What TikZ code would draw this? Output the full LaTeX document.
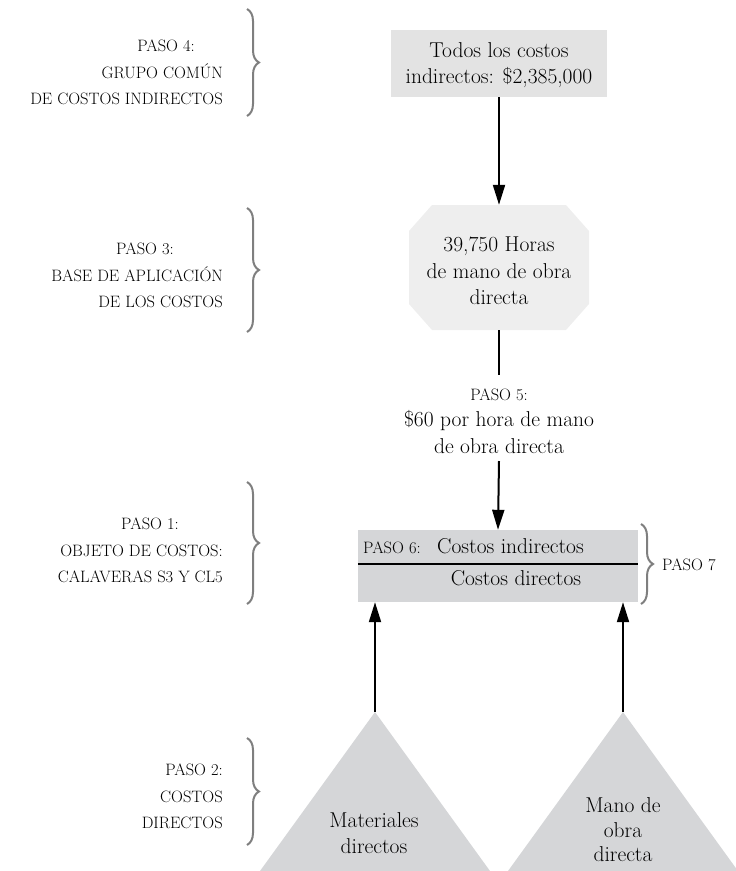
\documentclass[tikz,border=0pt]{standalone}
\usetikzlibrary{arrows.meta,decorations.pathreplacing}
\definecolor{boxA}{HTML}{E3E3E3}
\definecolor{octC}{HTML}{EEEEEE}
\definecolor{boxB}{HTML}{D5D6D8}
\definecolor{braceC}{HTML}{7F7F7F}
\newcommand\mainsz{\fontsize{21.5}{26.5}\selectfont}
\newcommand\trisz{\fontsize{21.5}{24.5}\selectfont}
\newcommand\capsz{\fontsize{16.5}{26.5}\selectfont}
\begin{document}
\begin{tikzpicture}[x=1pt,y=-1pt,
  txt/.style={inner sep=0pt, font=\mainsz, align=center},
  lbl/.style={inner sep=0pt, font=\capsz, align=center},
  arr/.style={line width=2pt, -{Triangle[length=20pt,width=12pt]}},
  plainline/.style={line width=2pt},
  brc/.style={decorate, decoration={brace, amplitude=12pt}, line width=2pt, draw=braceC},
]
\useasboundingbox (0,0) rectangle (736,871);

% top box
\node[fill=boxA, minimum width=216, minimum height=67, inner sep=0pt] (all) at (499,63.5) {};
\node[txt] (allt) at (499,65) {Todos los costos\\indirectos: \$2,385,000};

% octagon
\node[inner sep=0pt, minimum width=180, minimum height=125,
  path picture={\fill[octC]
    ([xshift=23pt]path picture bounding box.north west) --
    ([xshift=-23pt]path picture bounding box.north east) --
    ([yshift=-26pt]path picture bounding box.north east) --
    ([yshift=26pt]path picture bounding box.south east) --
    ([xshift=-23pt]path picture bounding box.south east) --
    ([xshift=23pt]path picture bounding box.south west) --
    ([yshift=26pt]path picture bounding box.south west) --
    ([yshift=-26pt]path picture bounding box.north west) -- cycle;}]
  (oct) at (499,267.5) {};
\node[txt] (octt) at (499,271) {39,750 Horas\\de mano de obra\\directa};

% PASO 5 label
\node[txt] (p5) at (499,421) {{\capsz PASO 5:}\\\$60 por hora de mano\\de obra directa};
\coordinate (l5top) at (499,375);
\coordinate (l5bot) at (499,461);

% cost object box
\node[fill=boxB, minimum width=280, minimum height=72, inner sep=0pt] (obj) at (498,566) {};
\draw[line width=1.2pt] ([yshift=2pt]obj.west) -- ([yshift=2pt]obj.east);
\node[lbl, anchor=base west] (p6) at (363,553) {PASO 6:};
\node[txt, anchor=base west] (ci) at (437,553) {Costos indirectos};
\node[txt, anchor=base] (cd) at (516,585) {Costos directos};

% triangles
\coordinate (mdA) at (375,712);
\coordinate (moA) at (623,712);
\fill[boxB] (mdA) -- (260,871) -- (490,871) -- cycle;
\fill[boxB] (moA) -- (508,871) -- (738,871) -- cycle;
\node[txt] (mdt) at (374,833) {Materiales\\directos};
\node[txt, font=\trisz] (mot) at (623,830) {Mano de\\obra\\directa};

% connectors
\draw[arr] (all.south) -- (oct.north);
\draw[plainline] (oct.south) -- (l5top);
\draw[arr] (l5bot) -- (obj.north);
\draw[arr] (mdA) -- (mdA |- obj.south);
\draw[arr] (moA) -- (moA |- obj.south);

% left labels
\node[lbl, anchor=base] (p4) at (166,51.6) {PASO 4:};
\node[lbl, anchor=base east] (p4b) at (223,78.1) {GRUPO COMÚN};
\node[lbl, anchor=base east] (p4c) at (223,104.6) {DE COSTOS INDIRECTOS};

\node[lbl, anchor=base] (p3) at (145,254.6) {PASO 3:};
\node[lbl, anchor=base east] (p3b) at (223,281.1) {BASE DE APLICACIÓN};
\node[lbl, anchor=base east] (p3c) at (223,307.6) {DE LOS COSTOS};

\node[lbl, anchor=base] (p1) at (150,529.6) {PASO 1:};
\node[lbl, anchor=base east] (p1b) at (223,556.1) {OBJETO DE COSTOS:};
\node[lbl, anchor=base east] (p1c) at (223,582.6) {CALAVERAS S3 Y CL5};

\node[lbl, anchor=base east] (p2) at (223,775.6) {PASO 2:};
\node[lbl, anchor=base east] (p2b) at (223,802.1) {COSTOS};
\node[lbl, anchor=base east] (p2c) at (223,828.6) {DIRECTOS};

\node[lbl, anchor=west] (p7) at (662,565) {PASO 7};

% braces
\coordinate (b4t) at (247,9);   \coordinate (b4b) at (247,116);
\coordinate (b3t) at (247,208); \coordinate (b3b) at (247,332);
\coordinate (b1t) at (247,482); \coordinate (b1b) at (247,604);
\coordinate (b2t) at (247,738); \coordinate (b2b) at (247,845);
\coordinate (b7t) at (641,524); \coordinate (b7b) at (641,604);
\draw[brc] (b4t) -- (b4b);
\draw[brc] (b3t) -- (b3b);
\draw[brc] (b1t) -- (b1b);
\draw[brc] (b2t) -- (b2b);
\draw[brc] (b7t) -- (b7b);
\end{tikzpicture}
\end{document}
